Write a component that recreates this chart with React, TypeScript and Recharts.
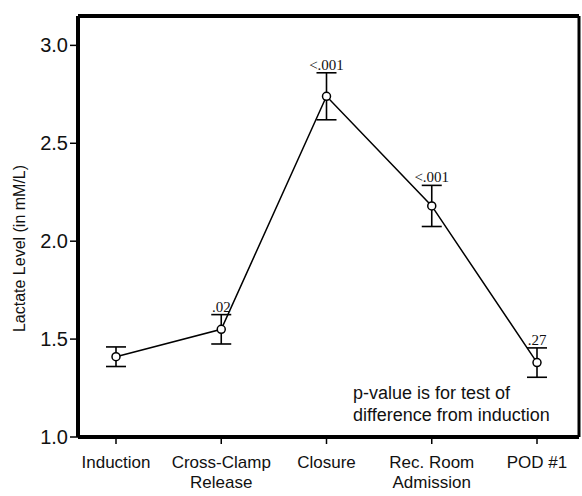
import React from 'react';
import { ComposedChart, Line, XAxis, YAxis, ErrorBar, LabelList } from 'recharts';

// time points along the perioperative course
const stages = ['Induction', 'Cross-Clamp|Release', 'Closure', 'Rec. Room|Admission', 'POD #1'];
// mean lactate (mM/L) and error-bar half widths
const lactate = [1.41, 1.55, 2.74, 2.18, 1.38];
const spread = [0.05, 0.075, 0.12, 0.105, 0.075];
// p-value vs induction, printed above each bar
const pValues = ['', '.02', '<.001', '<.001', '.27'];
const yTicks = [1.0, 1.5, 2.0, 2.5, 3.0];
const yDomain = [1, 3.15];

const data = stages.map((stage, i) => ({
  stage,
  lactate: lactate[i],
  err: spread[i],
  capTop: lactate[i] + spread[i],
  p: pValues[i],
}));

const sans = '"Liberation Sans", Arial, Helvetica, sans-serif';
const serif = '"Liberation Serif", "Times New Roman", serif';
const pad = { left: 38, right: 42 };

function StageTick(props: any) {
  const { x, y, payload } = props;
  const lines = String(payload.value).split('|');
  return (
    <text x={x} y={y + 8} textAnchor="middle" fill="#111" fontSize={17} fontFamily={sans}>
      {lines.map((l, i) => (
        <tspan key={i} x={x} dy={i === 0 ? 14 : 20}>{l}</tspan>
      ))}
    </text>
  );
}

function YTitle(props: any) {
  const { viewBox } = props;
  const cx = viewBox.x + 21;
  const cy = viewBox.y + viewBox.height / 2 + 22;
  return (
    <text x={cx} y={cy} transform={`rotate(-90 ${cx} ${cy})`} textAnchor="middle"
      dominantBaseline="middle" fill="#111" fontSize={16} fontFamily={sans}>
      Lactate Level (in mM/L)
    </text>
  );
}

export default function App() {
  return (
    <div style={{ position: 'absolute', left: 0, top: 0, width: 582, height: 496, background: '#fff' }}>
      <ComposedChart width={582} height={496} data={data} margin={{ top: 15, right: 0, bottom: 0, left: 0 }}>
        <XAxis
          dataKey="stage"
          scale="point"
          padding={pad}
          height={59}
          axisLine={{ stroke: '#000', strokeWidth: 4 }}
          tickLine={{ stroke: '#000', strokeWidth: 1.5 }}
          tickSize={7}
          interval={0}
          tick={<StageTick />}
        />
        <XAxis xAxisId="top" orientation="top" dataKey="stage" scale="point" padding={pad}
          height={1} tick={false} tickLine={false} axisLine={{ stroke: '#000', strokeWidth: 4 }} />
        <YAxis
          domain={yDomain}
          ticks={yTicks}
          width={78}
          axisLine={{ stroke: '#000', strokeWidth: 4 }}
          tickLine={{ stroke: '#000', strokeWidth: 1.5 }}
          tickSize={8}
          tickFormatter={(v: number) => v.toFixed(1)}
          tick={{ fill: '#111', fontSize: 20, fontFamily: sans }}
          label={<YTitle />}
        />
        <YAxis yAxisId="right" orientation="right" domain={yDomain} width={3} tick={false} tickLine={false}
          axisLine={{ stroke: '#000', strokeWidth: 3 }} />
        <Line
          type="linear"
          dataKey="lactate"
          stroke="#000"
          strokeWidth={1.5}
          dot={{ r: 4, fill: '#fff', stroke: '#000', strokeWidth: 1.5 }}
          activeDot={false}
          isAnimationActive={false}
        >
          <ErrorBar dataKey="err" direction="y" width={10} stroke="#000" strokeWidth={1.6} />
        </Line>
        <Line
          xAxisId="top"
          yAxisId="right"
          dataKey="capTop"
          stroke="none"
          dot={false}
          activeDot={false}
          legendType="none"
          isAnimationActive={false}
        >
          <LabelList dataKey="p" position="top" offset={3} fill="#111" fontSize={15} fontFamily={serif} />
        </Line>
      </ComposedChart>
      <div style={{ position: 'absolute', left: 353, top: 382, fontFamily: sans, fontSize: 18, lineHeight: '22px', color: '#111', whiteSpace: 'nowrap' }}>
        p-value is for test of<br />difference from induction
      </div>
    </div>
  );
}
